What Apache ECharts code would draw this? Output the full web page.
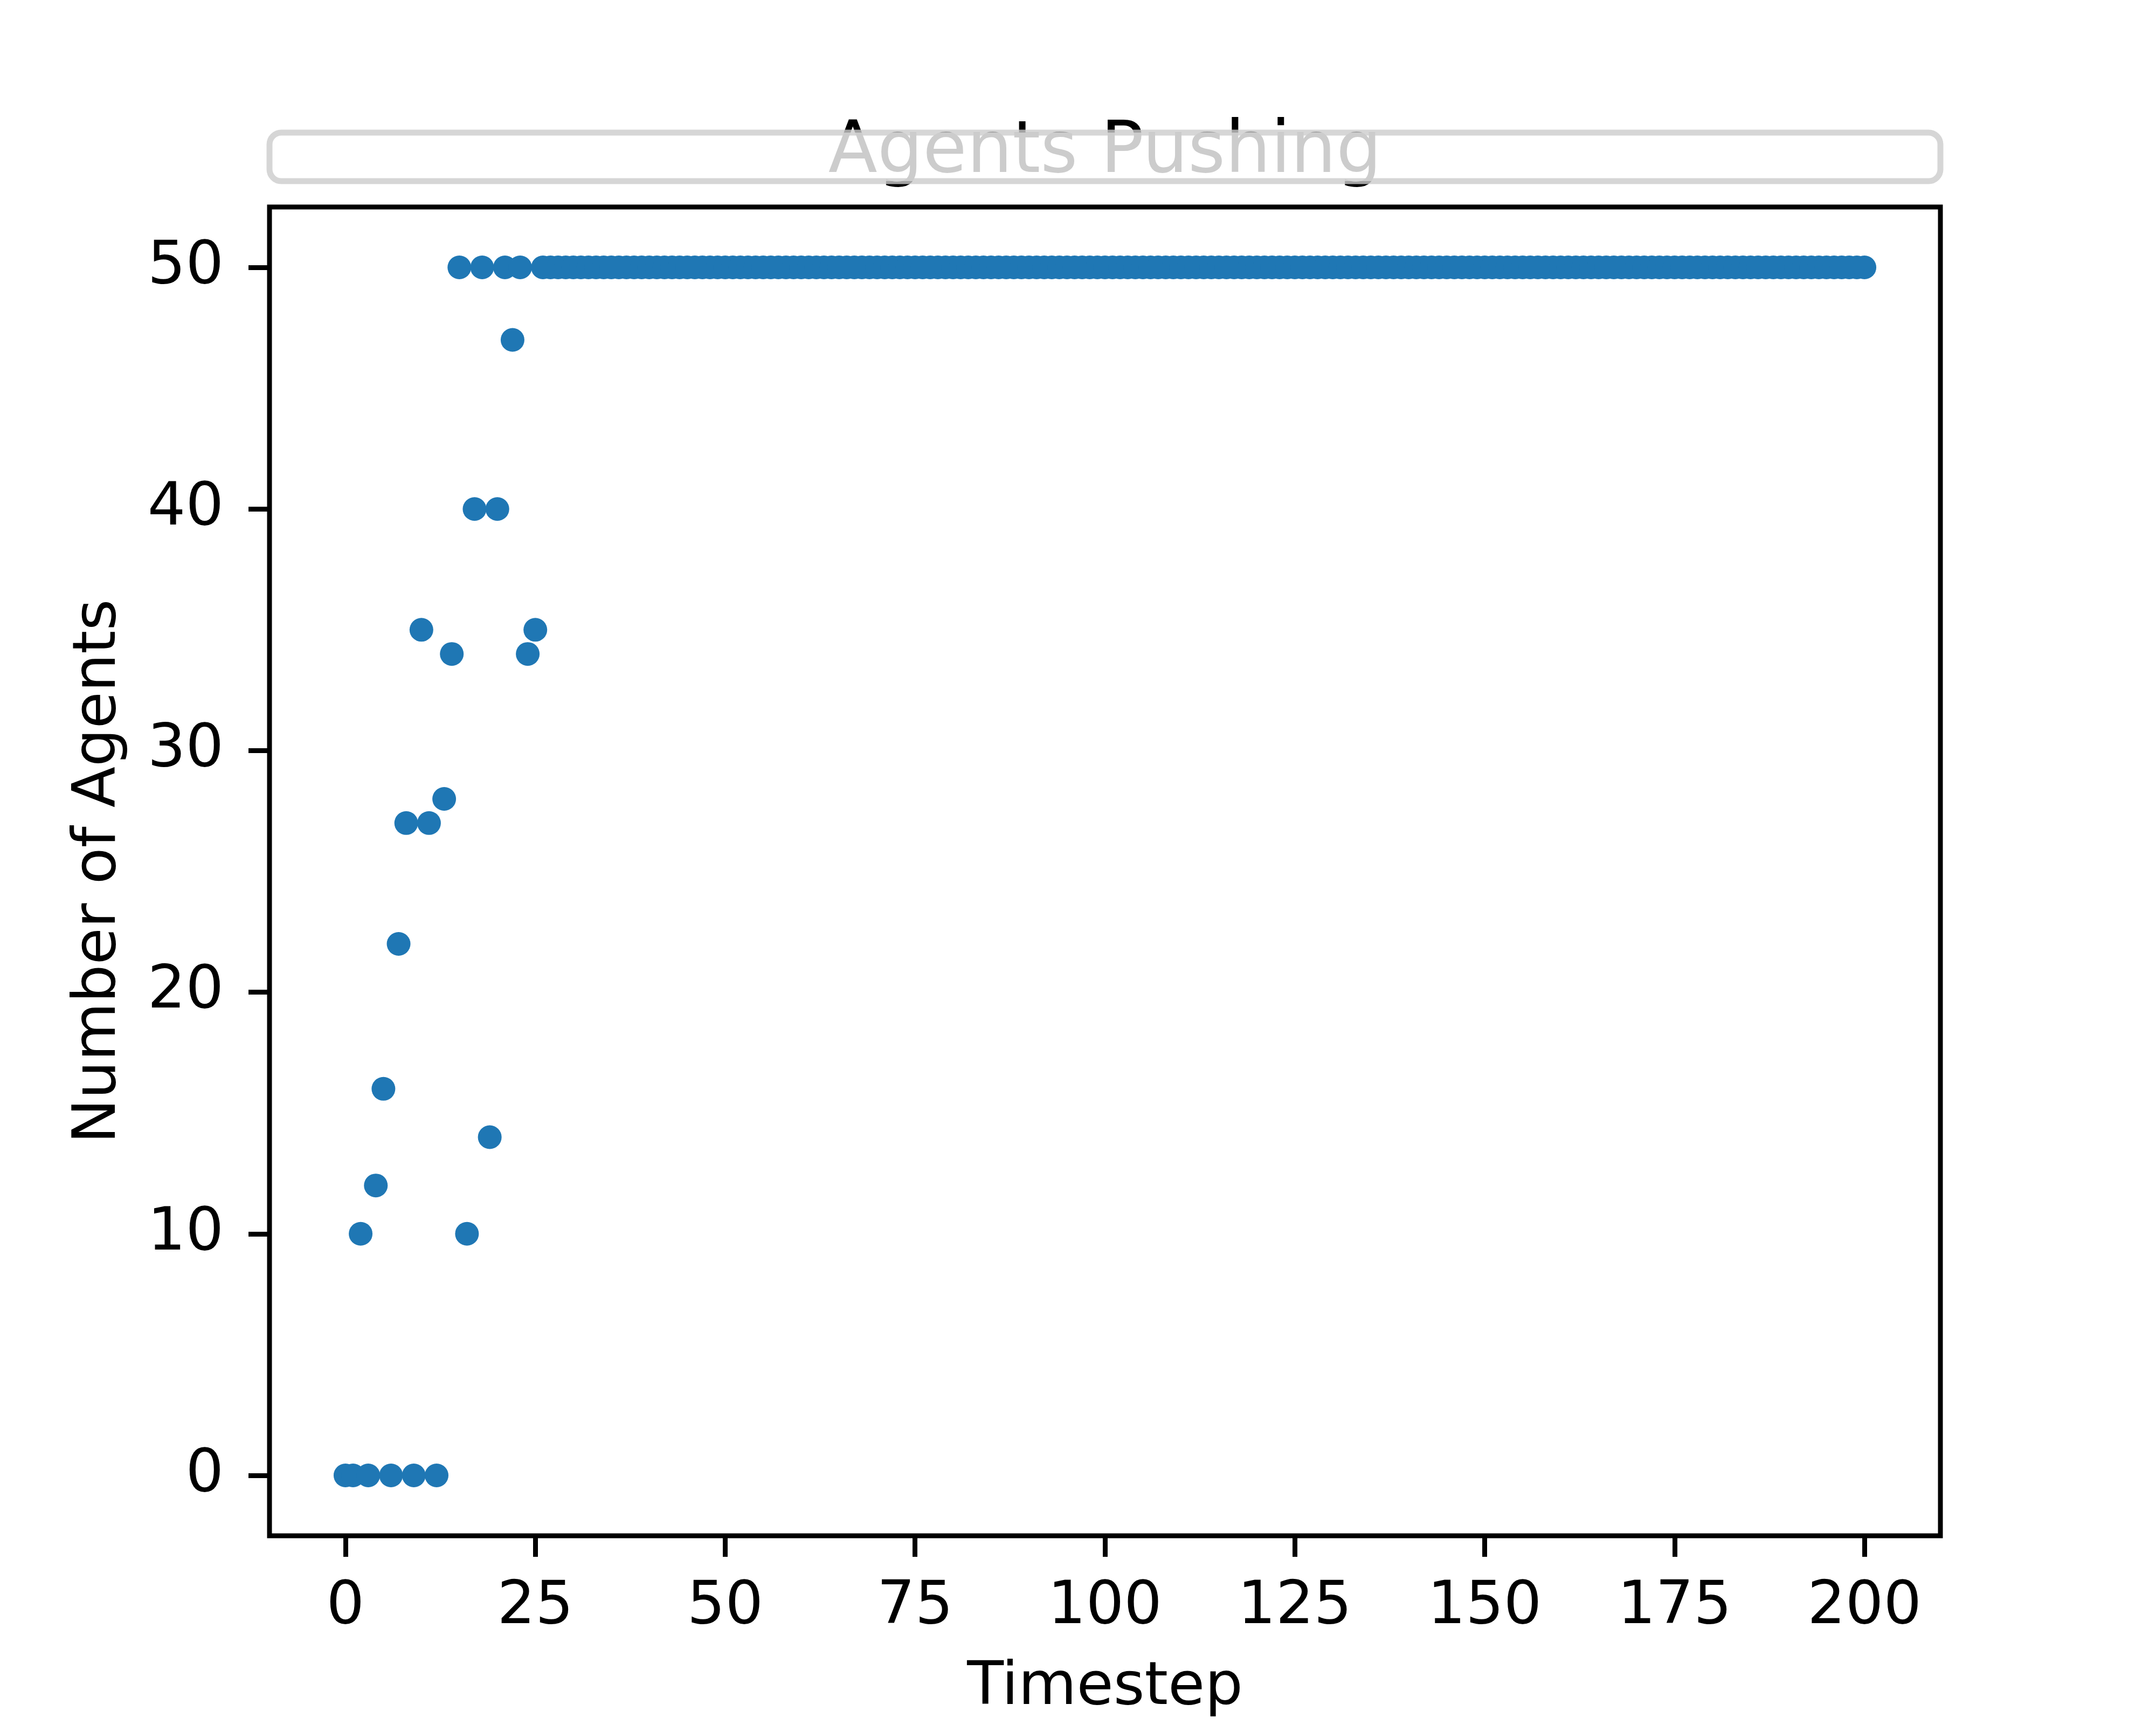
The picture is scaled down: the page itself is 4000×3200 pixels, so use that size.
<!DOCTYPE html>
<html>
<head>
<meta charset="utf-8">
<script src="https://cdn.jsdelivr.net/npm/echarts@6/dist/echarts.min.js"></script>
<style>
  html, body { margin: 0; padding: 0; background: #fff; }
  #chart { width: 4000px; height: 3200px; }
</style>
</head>
<body>
<div id="chart"></div>
<script>
// timestep of each sample
var timesteps = [
  0, 1, 2, 3, 4, 5, 6, 7, 8, 9, 10, 11, 12, 13, 14, 15, 16, 17, 18, 19, 20, 21, 22, 23, 24,
  25, 26, 27, 28, 29, 30, 31, 32, 33, 34, 35, 36, 37, 38, 39, 40, 41, 42, 43, 44, 45, 46, 47, 48, 49,
  50, 51, 52, 53, 54, 55, 56, 57, 58, 59, 60, 61, 62, 63, 64, 65, 66, 67, 68, 69, 70, 71, 72, 73, 74,
  75, 76, 77, 78, 79, 80, 81, 82, 83, 84, 85, 86, 87, 88, 89, 90, 91, 92, 93, 94, 95, 96, 97, 98, 99,
  100, 101, 102, 103, 104, 105, 106, 107, 108, 109, 110, 111, 112, 113, 114, 115, 116, 117, 118, 119, 120, 121, 122, 123, 124,
  125, 126, 127, 128, 129, 130, 131, 132, 133, 134, 135, 136, 137, 138, 139, 140, 141, 142, 143, 144, 145, 146, 147, 148, 149,
  150, 151, 152, 153, 154, 155, 156, 157, 158, 159, 160, 161, 162, 163, 164, 165, 166, 167, 168, 169, 170, 171, 172, 173, 174,
  175, 176, 177, 178, 179, 180, 181, 182, 183, 184, 185, 186, 187, 188, 189, 190, 191, 192, 193, 194, 195, 196, 197, 198, 199,
  200
];

// number of agents pushing at each timestep
var agentsPushing = [
  0, 0, 10, 0, 12, 16, 0, 22, 27, 0, 35, 27, 0, 28, 34, 50, 10, 40, 50, 14, 40, 50, 47, 50, 34,
  35, 50, 50, 50, 50, 50, 50, 50, 50, 50, 50, 50, 50, 50, 50, 50, 50, 50, 50, 50, 50, 50, 50, 50, 50,
  50, 50, 50, 50, 50, 50, 50, 50, 50, 50, 50, 50, 50, 50, 50, 50, 50, 50, 50, 50, 50, 50, 50, 50, 50,
  50, 50, 50, 50, 50, 50, 50, 50, 50, 50, 50, 50, 50, 50, 50, 50, 50, 50, 50, 50, 50, 50, 50, 50, 50,
  50, 50, 50, 50, 50, 50, 50, 50, 50, 50, 50, 50, 50, 50, 50, 50, 50, 50, 50, 50, 50, 50, 50, 50, 50,
  50, 50, 50, 50, 50, 50, 50, 50, 50, 50, 50, 50, 50, 50, 50, 50, 50, 50, 50, 50, 50, 50, 50, 50, 50,
  50, 50, 50, 50, 50, 50, 50, 50, 50, 50, 50, 50, 50, 50, 50, 50, 50, 50, 50, 50, 50, 50, 50, 50, 50,
  50, 50, 50, 50, 50, 50, 50, 50, 50, 50, 50, 50, 50, 50, 50, 50, 50, 50, 50, 50, 50, 50, 50, 50, 50,
  50
];

var xTicks = [0, 25, 50, 75, 100, 125, 150, 175, 200];
var yTicks = [0, 10, 20, 30, 40, 50];

var points = [];
for (var i = 0; i < timesteps.length; i++) {
  points.push([timesteps[i], agentsPushing[i]]);
}

var font = 'DejaVu Sans';
var chart = echarts.init(document.getElementById('chart'), null, { renderer: 'canvas' });

var option = {
  animation: false,
  backgroundColor: '#ffffff',
  title: {
    text: 'Agents Pushing',
    left: 2050,
    textAlign: 'center',
    top: 218,
    padding: 0,
    textStyle: { fontFamily: font, fontSize: 133, fontWeight: 'normal', color: '#000' }
  },
  // empty legend frame that sits over the title
  graphic: [{
    type: 'rect',
    z: 100,
    shape: { x: 500, y: 246, width: 3100, height: 90, r: 22 },
    style: { fill: 'rgba(255,255,255,0.8)', stroke: 'rgba(204,204,204,0.8)', lineWidth: 11 }
  }],
  grid: {
    left: 500, right: 400, top: 384, bottom: 351,
    show: true, borderColor: '#000', borderWidth: 9, backgroundColor: 'transparent'
  },
  xAxis: {
    type: 'value',
    min: -10, max: 210,
    name: 'Timestep',
    nameLocation: 'middle',
    nameGap: 228,
    nameTextStyle: { fontFamily: font, fontSize: 111, color: '#000' },
    axisLine: { show: false, onZero: false },
    axisTick: { show: true, length: 39, customValues: xTicks, lineStyle: { color: '#000', width: 9 } },
    axisLabel: { customValues: xTicks, margin: 78, fontFamily: font, fontSize: 111, color: '#000' },
    splitLine: { show: false }
  },
  yAxis: {
    type: 'value',
    min: -2.5, max: 52.5,
    name: 'Number of Agents',
    nameLocation: 'middle',
    nameRotate: 90,
    nameGap: 260,
    nameTextStyle: { fontFamily: font, fontSize: 111, color: '#000' },
    axisLine: { show: false, onZero: false },
    axisTick: { show: true, length: 39, customValues: yTicks, lineStyle: { color: '#000', width: 9 } },
    axisLabel: { customValues: yTicks, margin: 85, fontFamily: font, fontSize: 111, color: '#000' },
    splitLine: { show: false }
  },
  series: [{
    type: 'scatter',
    data: points,
    symbol: 'circle',
    symbolSize: 44,
    itemStyle: { color: '#1f77b4', opacity: 1 },
    large: false
  }]
};

chart.setOption(option);
</script>
</body>
</html>
